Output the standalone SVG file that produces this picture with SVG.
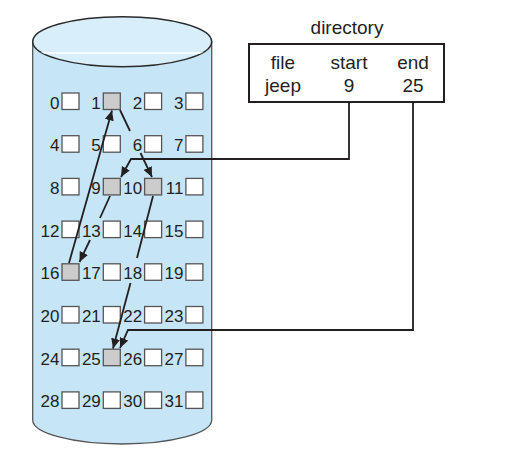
<svg xmlns="http://www.w3.org/2000/svg" width="516" height="460" viewBox="0 0 516 460">
<style>
text{font-family:"Liberation Sans",Arial,sans-serif;fill:#231f20}
.n{font-size:17px;text-anchor:end}
.d{font-size:19px;text-anchor:middle}
.b{fill:#fff;stroke:#555;stroke-width:1.3}
.g{fill:#cccccc;stroke:#555;stroke-width:1.3}
.c{fill:none;stroke:#231f20;stroke-width:1.8}
</style>
<defs>
<marker id="ah" markerUnits="userSpaceOnUse" markerWidth="12" markerHeight="10" refX="10" refY="4.5" orient="auto">
<path d="M0,0 L10,4.5 L0,9 Z" fill="#231f20"/>
</marker>
<clipPath id="top"><ellipse cx="122.2" cy="41.7" rx="89.5" ry="25"/></clipPath>
</defs>
<g id="disk">
<path d="M32.7,41.7 L32.7,420 A89.5,24 0 0 0 211.7,420 L211.7,41.7 Z" fill="#c6e6f8" stroke="#555" stroke-width="1.3"/>
<ellipse cx="122.2" cy="41.7" rx="89.5" ry="25" fill="#d8eefb" stroke="#2a2a2a" stroke-width="1.5"/>
<line x1="30" y1="53" x2="215" y2="53" stroke="#fff" stroke-width="1.3" clip-path="url(#top)"/>
</g>
<g id="blocks">
<g id="b0"><rect class="b" x="62" y="93" width="17" height="16.5"/><text class="n" x="59.5" y="108.5">0</text></g>
<g id="b1"><rect class="g" x="103.3" y="93" width="17" height="16.5"/><text class="n" x="100.8" y="108.5">1</text></g>
<g id="b2"><rect class="b" x="144.6" y="93" width="17" height="16.5"/><text class="n" x="142.1" y="108.5">2</text></g>
<g id="b3"><rect class="b" x="185.9" y="93" width="17" height="16.5"/><text class="n" x="183.4" y="108.5">3</text></g>
<g id="b4"><rect class="b" x="62" y="135.7" width="17" height="16.5"/><text class="n" x="59.5" y="151.2">4</text></g>
<g id="b5"><rect class="b" x="103.3" y="135.7" width="17" height="16.5"/><text class="n" x="100.8" y="151.2">5</text></g>
<g id="b6"><rect class="b" x="144.6" y="135.7" width="17" height="16.5"/><text class="n" x="142.1" y="151.2">6</text></g>
<g id="b7"><rect class="b" x="185.9" y="135.7" width="17" height="16.5"/><text class="n" x="183.4" y="151.2">7</text></g>
<g id="b8"><rect class="b" x="62" y="178.4" width="17" height="16.5"/><text class="n" x="59.5" y="193.9">8</text></g>
<g id="b9"><rect class="g" x="103.3" y="178.4" width="17" height="16.5"/><text class="n" x="100.8" y="193.9">9</text></g>
<g id="b10"><rect class="g" x="144.6" y="178.4" width="17" height="16.5"/><text class="n" x="142.1" y="193.9">10</text></g>
<g id="b11"><rect class="b" x="185.9" y="178.4" width="17" height="16.5"/><text class="n" x="183.4" y="193.9">11</text></g>
<g id="b12"><rect class="b" x="62" y="221.1" width="17" height="16.5"/><text class="n" x="59.5" y="236.6">12</text></g>
<g id="b13"><rect class="b" x="103.3" y="221.1" width="17" height="16.5"/><text class="n" x="100.8" y="236.6">13</text></g>
<g id="b14"><rect class="b" x="144.6" y="221.1" width="17" height="16.5"/><text class="n" x="142.1" y="236.6">14</text></g>
<g id="b15"><rect class="b" x="185.9" y="221.1" width="17" height="16.5"/><text class="n" x="183.4" y="236.6">15</text></g>
<g id="b16"><rect class="g" x="62" y="263.8" width="17" height="16.5"/><text class="n" x="59.5" y="279.3">16</text></g>
<g id="b17"><rect class="b" x="103.3" y="263.8" width="17" height="16.5"/><text class="n" x="100.8" y="279.3">17</text></g>
<g id="b18"><rect class="b" x="144.6" y="263.8" width="17" height="16.5"/><text class="n" x="142.1" y="279.3">18</text></g>
<g id="b19"><rect class="b" x="185.9" y="263.8" width="17" height="16.5"/><text class="n" x="183.4" y="279.3">19</text></g>
<g id="b20"><rect class="b" x="62" y="306.5" width="17" height="16.5"/><text class="n" x="59.5" y="322">20</text></g>
<g id="b21"><rect class="b" x="103.3" y="306.5" width="17" height="16.5"/><text class="n" x="100.8" y="322">21</text></g>
<g id="b22"><rect class="b" x="144.6" y="306.5" width="17" height="16.5"/><text class="n" x="142.1" y="322">22</text></g>
<g id="b23"><rect class="b" x="185.9" y="306.5" width="17" height="16.5"/><text class="n" x="183.4" y="322">23</text></g>
<g id="b24"><rect class="b" x="62" y="349.2" width="17" height="16.5"/><text class="n" x="59.5" y="364.7">24</text></g>
<g id="b25"><rect class="g" x="103.3" y="349.2" width="17" height="16.5"/><text class="n" x="100.8" y="364.7">25</text></g>
<g id="b26"><rect class="b" x="144.6" y="349.2" width="17" height="16.5"/><text class="n" x="142.1" y="364.7">26</text></g>
<g id="b27"><rect class="b" x="185.9" y="349.2" width="17" height="16.5"/><text class="n" x="183.4" y="364.7">27</text></g>
<g id="b28"><rect class="b" x="62" y="391.9" width="17" height="16.5"/><text class="n" x="59.5" y="407.4">28</text></g>
<g id="b29"><rect class="b" x="103.3" y="391.9" width="17" height="16.5"/><text class="n" x="100.8" y="407.4">29</text></g>
<g id="b30"><rect class="b" x="144.6" y="391.9" width="17" height="16.5"/><text class="n" x="142.1" y="407.4">30</text></g>
<g id="b31"><rect class="b" x="185.9" y="391.9" width="17" height="16.5"/><text class="n" x="183.4" y="407.4">31</text></g>
</g>
<g id="directory">
<text class="d" x="347" y="34">directory</text>
<rect x="249" y="44" width="195" height="58" fill="#fff" stroke="#231f20" stroke-width="2"/>
<text class="d" x="283" y="68.5">file</text>
<text class="d" x="349" y="68.5">start</text>
<text class="d" x="413" y="68.5">end</text>
<text class="d" x="283" y="91.5">jeep</text>
<text class="d" x="349" y="91.5">9</text>
<text class="d" x="413" y="91.5">25</text>
</g>
<g id="connectors">
<line class="c" x1="69" y1="263" x2="112" y2="110.5" marker-end="url(#ah)"/>
<line class="c" x1="120" y1="110" x2="130" y2="131"/>
<line class="c" x1="140.5" y1="153" x2="152" y2="177" marker-end="url(#ah)"/>
<line class="c" x1="110" y1="196" x2="100" y2="218"/>
<line class="c" x1="90" y1="240" x2="79.5" y2="262" marker-end="url(#ah)"/>
<line class="c" x1="153" y1="196" x2="137" y2="258"/>
<line class="c" x1="130.5" y1="283" x2="113" y2="348.5" marker-end="url(#ah)"/>
<polyline class="c" points="349,102 349,159 131,159 121,177" marker-end="url(#ah)"/>
<polyline class="c" points="413,102 413,330 128,330 120,348" marker-end="url(#ah)"/>
</g>
</svg>
